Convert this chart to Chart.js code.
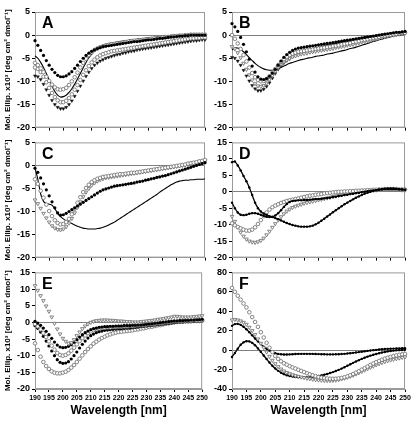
<!DOCTYPE html>
<html>
<head>
<meta charset="utf-8">
<script src="https://cdn.jsdelivr.net/npm/chart.js@4.4.1/dist/chart.umd.min.js"></script>
<style>
    body { margin: 0; background: #fff; }
    #wrap { position: relative; width: 414px; height: 425px; overflow: hidden; background: #fff; }
    canvas { position: absolute; }
</style>
</head>
<body>
<div id="wrap">
    <canvas id="cA" width="210" height="135" style="left:0px;top:0px"></canvas>
    <canvas id="cB" width="204" height="135" style="left:210px;top:0px"></canvas>
    <canvas id="cC" width="210" height="130" style="left:0px;top:135px"></canvas>
    <canvas id="cD" width="204" height="130" style="left:210px;top:135px"></canvas>
    <canvas id="cE" width="210" height="160" style="left:0px;top:265px"></canvas>
    <canvas id="cF" width="204" height="160" style="left:210px;top:265px"></canvas>
</div>
<script>
// wavelengths, nm
const wavelengths = [190,191,192,193,194,195,196,197,198,199,
    200,201,202,203,204,205,206,207,208,209,
    210,211,212,213,214,215,216,217,218,219,
    220,221,222,223,224,225,226,227,228,229,
    230,231,232,233,234,235,236,237,238,239,
    240,241,242,243,244,245,246,247,248,249,250];

// ---- panel A ----
const aDots = [-1.2,-2.2,-3.3,-4.4,-5.5,-6.5,-7.4,-8.1,-8.7,-9.0,
    -9.0,-8.8,-8.4,-7.9,-7.2,-6.5,-5.7,-5.0,-4.4,-3.9,
    -3.5,-3.2,-2.9,-2.7,-2.5,-2.4,-2.3,-2.2,-2.1,-2.0,
    -1.9,-1.8,-1.7,-1.6,-1.5,-1.4,-1.4,-1.3,-1.2,-1.1,
    -1.0,-1.0,-0.9,-0.8,-0.7,-0.7,-0.6,-0.5,-0.4,-0.4,
    -0.3,-0.2,-0.2,-0.1,-0.1,0,0,0,0,0,0];
const aRings = [-6.0,-6.5,-7.2,-8.0,-9.0,-9.9,-10.7,-11.3,-11.7,-11.8,
    -11.7,-11.4,-10.8,-10.0,-9.1,-8.1,-7.0,-6.0,-5.1,-4.3,
    -3.7,-3.2,-2.9,-2.6,-2.4,-2.2,-2.1,-2.0,-1.9,-1.8,
    -1.7,-1.6,-1.5,-1.4,-1.3,-1.2,-1.2,-1.1,-1.0,-0.9,
    -0.9,-0.8,-0.7,-0.7,-0.6,-0.5,-0.4,-0.4,-0.3,-0.2,
    -0.2,-0.1,-0.1,0,0,0.1,0.1,0.1,0.1,0.1,0.1];
const aLine = [-4.5,-5.0,-5.9,-7.0,-8.3,-9.7,-11.0,-12.2,-13.0,-13.4,
    -13.3,-13.0,-12.4,-11.6,-10.6,-9.5,-8.3,-7.1,-5.9,-4.9,
    -4.1,-3.4,-2.9,-2.5,-2.2,-2.0,-1.8,-1.7,-1.6,-1.5,
    -1.4,-1.3,-1.2,-1.1,-1.0,-1.0,-0.9,-0.8,-0.8,-0.7,
    -0.6,-0.5,-0.5,-0.4,-0.3,-0.3,-0.2,-0.1,-0.1,0,
    0,0.1,0.1,0.1,0.2,0.2,0.2,0.2,0.2,0.2,0.2];
const aRings2 = [-7.0,-7.3,-8.0,-9.0,-10.2,-11.4,-12.5,-13.4,-14.1,-14.5,
    -14.5,-14.2,-13.6,-12.8,-11.8,-10.8,-9.7,-8.6,-7.6,-6.7,
    -5.9,-5.3,-4.8,-4.4,-4.1,-3.9,-3.7,-3.5,-3.4,-3.3,
    -3.2,-3.1,-3.0,-2.9,-2.8,-2.7,-2.6,-2.5,-2.4,-2.3,
    -2.2,-2.1,-2.0,-1.9,-1.8,-1.7,-1.6,-1.5,-1.4,-1.3,
    -1.2,-1.1,-1.0,-0.9,-0.8,-0.7,-0.7,-0.6,-0.6,-0.5,-0.5];
const aTris = [-8.8,-9.0,-9.6,-10.6,-11.8,-13.0,-14.1,-15.0,-15.6,-15.9,
    -15.9,-15.6,-15.0,-14.2,-13.2,-12.1,-11.0,-9.9,-8.9,-8.0,
    -7.2,-6.5,-6.0,-5.6,-5.3,-5.0,-4.8,-4.6,-4.4,-4.2,
    -4.1,-3.9,-3.8,-3.6,-3.5,-3.4,-3.2,-3.1,-3.0,-2.9,
    -2.8,-2.7,-2.6,-2.5,-2.4,-2.3,-2.2,-2.1,-2.0,-1.9,
    -1.8,-1.7,-1.6,-1.5,-1.4,-1.3,-1.2,-1.2,-1.1,-1.0,-1.0];

// ---- panel B ----
const bDots = [2.5,1.8,0.8,-0.5,-2.0,-3.6,-5.2,-6.7,-8.0,-9.0,
    -9.5,-9.6,-9.4,-8.9,-8.2,-7.4,-6.5,-5.6,-4.8,-4.2,
    -3.7,-3.3,-3.0,-2.8,-2.7,-2.6,-2.5,-2.4,-2.3,-2.2,
    -2.1,-2.0,-1.9,-1.8,-1.7,-1.6,-1.5,-1.4,-1.3,-1.2,
    -1.1,-1.0,-0.9,-0.8,-0.7,-0.6,-0.5,-0.4,-0.3,-0.2,
    -0.1,0,0.1,0.2,0.3,0.4,0.5,0.6,0.6,0.7,0.8];
const bRings = [0,-0.8,-1.8,-3.0,-4.3,-5.7,-7.0,-8.2,-9.1,-9.7,
    -10.0,-9.9,-9.5,-8.9,-8.1,-7.3,-6.5,-5.8,-5.2,-4.7,
    -4.3,-4.0,-3.8,-3.6,-3.5,-3.4,-3.3,-3.2,-3.1,-3.0,
    -2.9,-2.8,-2.7,-2.6,-2.5,-2.4,-2.3,-2.2,-2.0,-1.9,
    -1.8,-1.7,-1.5,-1.4,-1.3,-1.1,-1.0,-0.9,-0.7,-0.6,
    -0.5,-0.4,-0.2,-0.1,0,0.1,0.2,0.3,0.4,0.5,0.5];
const bTris = [-2.5,-3.0,-3.8,-4.9,-6.1,-7.4,-8.6,-9.7,-10.5,-11.0,
    -11.1,-10.9,-10.4,-9.6,-8.7,-7.8,-7.0,-6.3,-5.8,-5.4,
    -5.0,-4.7,-4.5,-4.3,-4.1,-4.0,-3.9,-3.7,-3.6,-3.5,
    -3.4,-3.3,-3.2,-3.1,-3.0,-2.9,-2.7,-2.6,-2.5,-2.4,
    -2.2,-2.1,-2.0,-1.8,-1.7,-1.5,-1.4,-1.2,-1.1,-0.9,
    -0.8,-0.6,-0.5,-0.4,-0.2,-0.1,0,0.1,0.2,0.3,0.4];
const bDarkTris = [-4.8,-5.0,-5.6,-6.5,-7.6,-8.8,-9.9,-10.9,-11.6,-12.0,
    -12.0,-11.7,-11.1,-10.3,-9.3,-8.3,-7.4,-6.6,-6.0,-5.5,
    -5.1,-4.7,-4.4,-4.1,-3.9,-3.7,-3.5,-3.3,-3.1,-2.9,
    -2.8,-2.6,-2.5,-2.3,-2.2,-2.0,-1.9,-1.8,-1.6,-1.5,
    -1.4,-1.3,-1.1,-1.0,-0.9,-0.8,-0.6,-0.5,-0.4,-0.3,
    -0.2,-0.1,0,0.1,0.2,0.3,0.4,0.5,0.5,0.6,0.6];
const bLine = [-3.2,-2.8,-2.8,-3.1,-3.6,-4.2,-4.9,-5.5,-6.1,-6.6,
    -7.0,-7.3,-7.5,-7.6,-7.6,-7.5,-7.3,-7.0,-6.7,-6.4,
    -6.1,-5.9,-5.7,-5.5,-5.3,-5.2,-5.0,-4.9,-4.8,-4.6,
    -4.5,-4.4,-4.3,-4.1,-4.0,-3.9,-3.7,-3.6,-3.4,-3.3,
    -3.1,-2.9,-2.8,-2.6,-2.4,-2.2,-2.0,-1.8,-1.6,-1.4,
    -1.2,-1.0,-0.9,-0.7,-0.5,-0.4,-0.2,-0.1,0,0.1,0.2];

// ---- panel C ----
const cDots = [-0.6,-1.5,-2.7,-4.0,-5.3,-6.6,-7.9,-9.2,-10.3,-10.8,
    -10.7,-10.4,-10.0,-9.6,-9.2,-8.8,-8.4,-8.0,-7.6,-7.2,
    -6.8,-6.4,-6.0,-5.6,-5.3,-5.1,-4.9,-4.7,-4.5,-4.4,
    -4.3,-4.2,-4.1,-4.0,-3.9,-3.8,-3.6,-3.5,-3.4,-3.2,
    -3.1,-2.9,-2.8,-2.6,-2.5,-2.3,-2.2,-2.0,-1.8,-1.6,
    -1.4,-1.2,-1.0,-0.8,-0.6,-0.4,-0.2,0,0.2,0.4,0.6];
const cRings = [-3.0,-4.0,-5.5,-7.0,-8.5,-9.9,-11.0,-11.9,-12.5,-12.8,
    -12.7,-12.3,-11.6,-10.6,-9.4,-8.1,-6.9,-5.8,-4.9,-4.2,
    -3.6,-3.2,-2.9,-2.7,-2.5,-2.4,-2.3,-2.2,-2.1,-2.0,
    -1.9,-1.9,-1.8,-1.7,-1.6,-1.6,-1.5,-1.4,-1.3,-1.2,
    -1.1,-1.0,-0.9,-0.8,-0.7,-0.6,-0.5,-0.4,-0.3,-0.2,
    -0.1,0,0.1,0.2,0.4,0.5,0.6,0.7,0.9,1.0,1.2];
const cTris = [-7.5,-8.3,-9.3,-10.4,-11.4,-12.3,-13.1,-13.6,-13.9,-14.0,
    -13.8,-13.3,-12.5,-11.5,-10.3,-9.1,-7.9,-6.8,-5.8,-5.0,
    -4.3,-3.8,-3.4,-3.1,-2.9,-2.7,-2.6,-2.5,-2.4,-2.3,
    -2.2,-2.1,-2.0,-1.9,-1.8,-1.7,-1.6,-1.5,-1.4,-1.3,
    -1.2,-1.1,-1.0,-0.9,-0.8,-0.7,-0.6,-0.5,-0.4,-0.3,
    -0.2,-0.1,0,0.1,0.3,0.4,0.5,0.6,0.8,0.9,1.0];
const cLine = [-0.5,-3.0,-6.2,-7.8,-8.3,-8.4,-8.6,-9.4,-10.4,-11.1,
    -11.6,-12.0,-12.3,-12.6,-12.9,-13.2,-13.4,-13.6,-13.7,-13.8,
    -13.8,-13.8,-13.7,-13.6,-13.4,-13.2,-12.9,-12.6,-12.3,-11.9,
    -11.5,-11.1,-10.7,-10.3,-9.9,-9.5,-9.1,-8.7,-8.3,-7.9,
    -7.5,-7.1,-6.7,-6.3,-5.8,-5.4,-5.0,-4.6,-4.2,-3.9,
    -3.6,-3.4,-3.3,-3.2,-3.2,-3.1,-3.1,-3.0,-3.0,-3.0,-2.9];

// ---- panel D ----
const dLine1 = [9.0,9.2,8.0,6.5,4.8,3.2,1.3,-1.0,-3.3,-5.0,
    -6.0,-6.6,-7.0,-7.4,-7.7,-8.0,-8.3,-8.7,-9.1,-9.5,
    -9.8,-10.1,-10.3,-10.5,-10.6,-10.6,-10.6,-10.5,-10.3,-9.9,
    -9.4,-8.8,-8.2,-7.5,-6.9,-6.2,-5.6,-5.0,-4.4,-3.8,
    -3.3,-2.8,-2.3,-1.8,-1.4,-1.0,-0.6,-0.3,0,0.3,
    0.5,0.7,0.8,0.9,1.0,1.0,1.0,0.9,0.8,0.7,0.6];
const dLine2 = [-3.3,-5.0,-6.3,-7.0,-7.1,-7.0,-6.7,-6.5,-6.5,-6.7,
    -7.0,-7.3,-7.6,-7.7,-7.6,-7.2,-6.5,-5.6,-4.6,-3.7,
    -3.1,-2.8,-2.7,-2.6,-2.6,-2.5,-2.5,-2.4,-2.3,-2.2,
    -2.2,-2.1,-2.0,-1.9,-1.8,-1.6,-1.5,-1.3,-1.2,-1.0,
    -0.9,-0.7,-0.6,-0.4,-0.3,-0.1,0,0.2,0.3,0.4,
    0.5,0.6,0.7,0.8,0.8,0.8,0.8,0.8,0.7,0.7,0.6];
const dRings = [-9.6,-10.2,-10.7,-11.1,-11.5,-11.8,-11.8,-11.5,-10.8,-9.8,
    -8.6,-7.4,-6.3,-5.4,-4.7,-4.2,-3.8,-3.4,-3.1,-2.8,
    -2.6,-2.4,-2.2,-2.0,-1.8,-1.6,-1.4,-1.2,-1.1,-0.9,
    -0.8,-0.7,-0.5,-0.4,-0.3,-0.2,-0.1,0,0,0.1,
    0.1,0.2,0.2,0.3,0.3,0.4,0.4,0.5,0.5,0.6,
    0.6,0.7,0.7,0.8,0.8,0.8,0.8,0.8,0.7,0.7,0.7];
const dTris = [-7.5,-9.0,-10.8,-12.3,-13.5,-14.4,-15.0,-15.3,-15.4,-15.2,
    -14.8,-14.1,-13.1,-12.0,-10.8,-9.7,-8.6,-7.6,-6.7,-5.9,
    -5.3,-4.8,-4.4,-4.1,-3.8,-3.5,-3.3,-3.1,-2.9,-2.7,
    -2.5,-2.3,-2.1,-1.9,-1.7,-1.5,-1.3,-1.1,-0.9,-0.7,
    -0.6,-0.4,-0.3,-0.2,-0.1,0,0.1,0.2,0.3,0.4,
    0.5,0.6,0.6,0.7,0.7,0.7,0.7,0.6,0.6,0.5,0.5];

// ---- panel E ----
const eTris = [11.0,9.6,8.0,6.5,4.9,3.3,1.6,-0.3,-2.0,-3.5,
    -4.8,-5.7,-6.3,-6.1,-5.2,-4.0,-2.9,-1.9,-1.1,-0.5,
    0,0.3,0.5,0.6,0.7,0.7,0.7,0.6,0.6,0.5,
    0.4,0.4,0.3,0.2,0.2,0.1,0.1,0.1,0.2,0.3,
    0.4,0.5,0.6,0.7,0.9,1.0,1.1,1.3,1.4,1.6,
    1.8,1.8,1.7,1.6,1.6,1.6,1.6,1.7,1.8,1.9,2.0];
const eDots1 = [0.3,-0.2,-0.9,-1.7,-2.7,-3.7,-4.8,-5.9,-6.8,-7.4,
    -7.6,-7.5,-7.2,-6.7,-6.0,-5.2,-4.4,-3.7,-3.1,-2.6,
    -2.2,-1.9,-1.7,-1.5,-1.4,-1.3,-1.3,-1.2,-1.2,-1.1,
    -1.1,-1.1,-1.0,-1.0,-1.0,-0.9,-0.9,-0.8,-0.8,-0.7,
    -0.6,-0.5,-0.4,-0.3,-0.2,-0.1,0,0.1,0.2,0.3,
    0.4,0.4,0.5,0.5,0.6,0.6,0.7,0.7,0.8,0.8,0.9];
const eRings1 = [-0.5,-1.2,-2.1,-3.2,-4.4,-5.7,-7.0,-8.2,-9.2,-9.8,
    -10.0,-9.8,-9.3,-8.5,-7.6,-6.6,-5.6,-4.7,-3.9,-3.2,
    -2.7,-2.3,-2.0,-1.8,-1.7,-1.6,-1.5,-1.5,-1.4,-1.4,
    -1.3,-1.3,-1.2,-1.2,-1.1,-1.1,-1.0,-0.9,-0.9,-0.8,
    -0.7,-0.6,-0.5,-0.4,-0.3,-0.2,-0.1,0,0.1,0.2,
    0.3,0.3,0.4,0.4,0.5,0.5,0.5,0.6,0.6,0.6,0.7];
const eDots2 = [-1.0,-1.8,-2.9,-4.2,-5.6,-7.1,-8.6,-10.0,-11.2,-12.0,
    -12.3,-12.2,-11.8,-11.0,-10.0,-8.9,-7.7,-6.6,-5.6,-4.7,
    -4.0,-3.5,-3.1,-2.8,-2.6,-2.4,-2.3,-2.2,-2.1,-2.0,
    -1.9,-1.9,-1.8,-1.7,-1.7,-1.6,-1.5,-1.4,-1.3,-1.2,
    -1.1,-1.0,-0.9,-0.8,-0.7,-0.6,-0.5,-0.4,-0.3,-0.2,
    -0.1,0,0.1,0.1,0.2,0.2,0.3,0.3,0.4,0.4,0.5];
const eRings2 = [-6.3,-8.3,-10.3,-11.9,-13.1,-14.0,-14.7,-15.1,-15.3,-15.3,
    -15.1,-14.8,-14.3,-13.6,-12.8,-11.9,-10.9,-9.9,-8.9,-8.0,
    -7.2,-6.4,-5.8,-5.2,-4.7,-4.3,-3.9,-3.6,-3.3,-3.1,
    -2.9,-2.8,-2.7,-2.6,-2.5,-2.4,-2.2,-2.1,-1.9,-1.8,
    -1.6,-1.4,-1.3,-1.1,-0.9,-0.8,-0.6,-0.4,-0.3,-0.1,
    0,0.1,0.2,0.2,0.3,0.3,0.3,0.4,0.4,0.4,0.5];

// ---- panel F ----
const fRings = [64,60,56,52,48,44,39,34,29,24,
    18.5,13,7.5,2.5,-2,-6,-9,-11.5,-13.5,-15,
    -16.5,-17.8,-19,-20.2,-21.4,-22.6,-23.8,-24.9,-25.9,-26.8,
    -27.6,-28.3,-28.8,-29.2,-29.4,-29.5,-29.4,-29.1,-28.6,-27.9,
    -27.0,-25.9,-24.6,-23.2,-21.7,-20.1,-18.5,-16.9,-15.3,-13.8,
    -12.4,-11.1,-9.9,-8.8,-7.8,-6.9,-6.1,-5.4,-4.8,-4.3,-3.9];
const fTris = [31,31.5,31,30,28.5,26.5,23.5,20,16,11.5,
    7,2.5,-2,-6.5,-10.5,-14,-17,-19.5,-21.5,-23,
    -24.3,-25.4,-26.3,-27.1,-27.8,-28.4,-29,-29.5,-30,-30.4,
    -30.8,-31.1,-31.3,-31.4,-31.4,-31.2,-30.9,-30.4,-29.7,-28.9,
    -28,-27,-25.8,-24.6,-23.3,-22,-20.6,-19.2,-17.8,-16.5,
    -15.2,-14,-12.9,-11.9,-11,-10.2,-9.5,-8.8,-8.2,-7.6,-7.0];
const fDotsA = [25.0,26.8,27.0,26.0,24.0,21.5,18.5,15.2,12.0,9.0,
    6.2,3.6,1.4,-0.5,-2.0,-3.1,-3.9,-4.3,-4.5,-4.5,
    -4.4,-4.2,-4.0,-3.9,-3.8,-3.8,-3.8,-3.8,-3.9,-4.0,
    -4.1,-4.2,-4.3,-4.4,-4.4,-4.4,-4.3,-4.2,-4.0,-3.8,
    -3.5,-3.2,-2.8,-2.4,-2.0,-1.6,-1.2,-0.8,-0.4,0,
    0.3,0.6,0.9,1.1,1.3,1.5,1.6,1.7,1.8,1.9,2.0];
const fDotsB = [-7,-3,1.5,5.5,8.0,9.2,9.0,7.5,5.0,1.8,
    -1.8,-5.5,-9.2,-12.8,-16.0,-18.9,-21.3,-23.2,-24.7,-25.8,
    -26.6,-27.2,-27.6,-27.9,-28.0,-28.1,-28.0,-27.8,-27.5,-27.1,
    -26.6,-26.0,-25.3,-24.5,-23.6,-22.6,-21.5,-20.3,-19.0,-17.6,
    -16.1,-14.6,-13.1,-11.7,-10.3,-9.0,-7.8,-6.7,-5.7,-4.8,
    -4.0,-3.2,-2.5,-1.9,-1.3,-0.9,-0.5,-0.2,0,0.2,0.3];

const yTitle = 'Mol. Ellip. x10\u00B3 [deg cm\u00B2 dmol\u207B\u00B9]';
const fam = "'Liberation Sans', Arial, sans-serif";
const GRAY = '#777';

// marker looks
const looks = {
    dot:  { pointStyle: 'circle', pointRadius: 1.6, pointBackgroundColor: '#000', pointBorderColor: '#000', pointBorderWidth: 0, showLine: false },
    ring: { pointStyle: 'circle', pointRadius: 1.8, pointBackgroundColor: '#fff', pointBorderColor: GRAY, pointBorderWidth: 0.9, showLine: false },
    tri:  { pointStyle: 'triangle', pointRotation: 180, pointRadius: 2.1, pointBackgroundColor: '#fff', pointBorderColor: GRAY, pointBorderWidth: 0.9, showLine: false },
    dtri: { pointStyle: 'triangle', pointRotation: 180, pointRadius: 1.8, pointBackgroundColor: '#111', pointBorderColor: '#111', pointBorderWidth: 0.5, showLine: false },
    line: { pointRadius: 0, borderColor: '#000', borderWidth: 1.1, showLine: true, tension: 0.2 },
    dline:{ pointRadius: 1.2, pointBackgroundColor: '#000', pointBorderColor: '#000', pointBorderWidth: 0, borderColor: '#000', borderWidth: 1.3, showLine: true, tension: 0.2 }
};

function series(vals, look) {
    return Object.assign({
        data: wavelengths.map((w, i) => ({ x: w, y: vals[i] })),
        clip: 4
    }, looks[look]);
}

// grey frame round the plot area and the panel letter
const framePlugin = {
    id: 'frame',
    beforeDatasetsDraw(chart) {
        const a = chart.chartArea, ctx = chart.ctx;
        ctx.save();
        ctx.strokeStyle = '#9a9a9a';
        ctx.lineWidth = 1;
        ctx.strokeRect(a.left + 0.5, a.top + 0.5, a.width - 1, a.height - 1);
        ctx.restore();
    },
    afterDraw(chart, args, opts) {
        const a = chart.chartArea, ctx = chart.ctx;
        ctx.save();
        ctx.fillStyle = '#000';
        ctx.font = 'bold 16px ' + fam;
        ctx.textBaseline = 'top';
        ctx.fillText(opts.letter, a.left + 7, a.top + 4);
        ctx.restore();
    }
};

function panel(id, letter, sets, yMin, yMax, yStep, left, bottom) {
    const padTop = { A: 12, B: 12, C: 6, D: 6, E: 5, F: 5 }[letter];
    new Chart(document.getElementById(id), {
        type: 'line',
        data: { datasets: sets },
        plugins: [framePlugin],
        options: {
            responsive: false,
            animation: false,
            layout: { padding: { top: padTop, right: left ? 5 : 9, left: 0, bottom: 0 } },
            plugins: {
                legend: { display: false },
                tooltip: { enabled: false },
                frame: { letter: letter }
            },
            scales: {
                x: {
                    type: 'linear', min: 190, max: 250,
                    ticks: { stepSize: 5, display: bottom, autoSkip: false, maxRotation: 0, padding: 2,
                             color: '#000', font: { family: fam, size: 7, weight: 'bold' } },
                    grid: { drawOnChartArea: false, tickLength: 3, tickColor: '#000' },
                    border: { color: '#9a9a9a' },
                    title: { display: bottom, text: 'Wavelength [nm]', color: '#000',
                             font: { family: fam, size: 12, weight: 'bold' }, padding: { top: 0, bottom: 7 } },
                    afterFit: s => { s.height = bottom ? 36 : 5; }
                },
                y: {
                    min: yMin, max: yMax,
                    ticks: { stepSize: yStep, padding: 2, color: '#000', font: { family: fam, size: 9, weight: 'bold' } },
                    grid: { color: c => (c.tick && c.tick.value === 0 ? '#808080' : 'rgba(0,0,0,0)'),
                            lineWidth: 1, tickLength: 3, tickColor: '#000' },
                    border: { color: '#9a9a9a' },
                    title: { display: left, text: yTitle, color: '#000',
                             font: { family: fam, size: 8, weight: 'bold' }, padding: { top: 3, bottom: 0 } },
                    afterFit: s => { s.width = left ? 35 : 22; }
                }
            }
        }
    });
}

panel('cA', 'A', [series(aDots, 'dot'), series(aRings, 'ring'), series(aLine, 'line'),
                  series(aRings2, 'ring'), series(aTris, 'dtri')], -20, 5, 5, true, false);
panel('cB', 'B', [series(bDots, 'dot'), series(bRings, 'ring'), series(bTris, 'tri'),
                  series(bDarkTris, 'dtri'), series(bLine, 'line')], -20, 5, 5, false, false);
panel('cC', 'C', [series(cDots, 'dot'), series(cRings, 'ring'), series(cTris, 'tri'),
                  series(cLine, 'line')], -20, 5, 5, true, false);
panel('cD', 'D', [series(dLine1, 'dline'), series(dLine2, 'dline'), series(dRings, 'ring'),
                  series(dTris, 'tri')], -20, 15, 5, false, false);
panel('cE', 'E', [series(eTris, 'tri'), series(eDots1, 'dot'), series(eRings1, 'ring'),
                  series(eDots2, 'dot'), series(eRings2, 'ring')], -20, 15, 5, true, true);
panel('cF', 'F', [series(fRings, 'ring'), series(fTris, 'tri'), series(fDotsA, 'dline'),
                  series(fDotsB, 'dline')], -40, 80, 20, false, true);
</script>
</body>
</html>
